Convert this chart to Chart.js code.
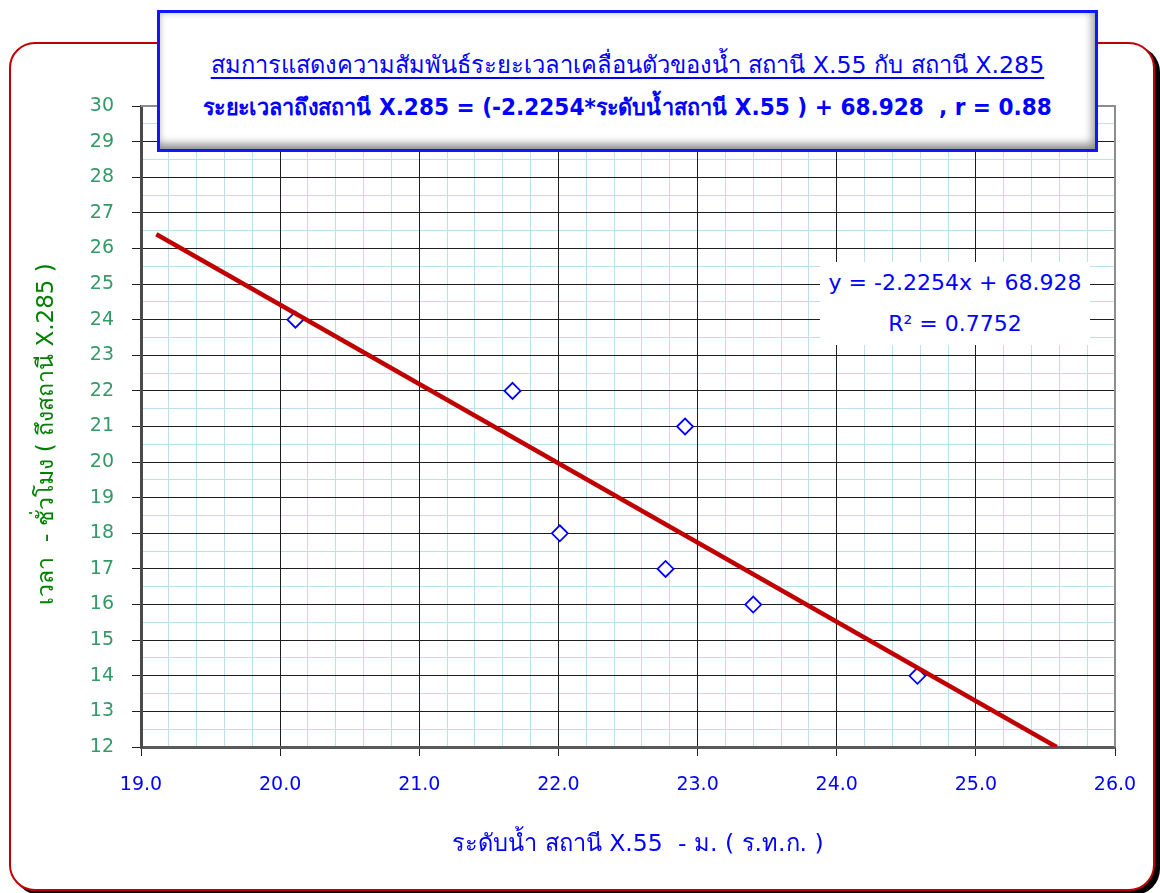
<!DOCTYPE html>
<html><head><meta charset="utf-8">
<script src="https://cdn.jsdelivr.net/npm/chart.js@4/dist/chart.umd.min.js"></script>
<style>
html,body{margin:0;padding:0;background:#fff;}
#wrap{position:relative;width:1160px;height:893px;overflow:hidden;font-family:"DejaVu Sans",sans-serif;}
#frame{position:absolute;box-sizing:border-box;left:9px;top:42px;width:1146px;height:849px;border:2px solid #c00000;border-radius:26px;box-shadow:5px 4px 0 #000;background:#fff;}
#cv{position:absolute;left:0;top:0;}
#titlebox{position:absolute;box-sizing:border-box;left:157px;top:10px;width:941px;height:142px;border:3px solid #1414ff;background:#fff;
 box-shadow: inset 0 -10px 8px -5px #8c8c8c, inset -8px 0 8px -5px #a0a0a0, inset 5px 5px 6px -4px #d8d8d8;color:#0000ff;}
.tl{position:absolute;left:0;right:0;text-align:center;white-space:pre;}
#t1{top:37px;font-size:23.7px;line-height:30px;text-decoration:underline;text-underline-offset:4px;}
#t2{top:79px;font-size:23px;line-height:30px;font-weight:bold;transform:scaleX(0.94);transform-origin:50% 50%;}
#eqbox{position:absolute;left:820px;top:262px;width:270px;height:83px;background:#fff;color:#0000ff;font-size:22px;}
#eqbox div{position:absolute;left:0;right:0;text-align:center;line-height:26px;white-space:pre;}
</style></head>
<body>
<div id="wrap">
 <div id="frame"></div>
 <canvas id="cv" width="1160" height="893"></canvas>
 <div id="titlebox">
  <div class="tl" id="t1">สมการแสดงความสัมพันธ์ระยะเวลาเคลื่อนตัวของน้ำ สถานี X.55 กับ สถานี X.285</div>
  <div class="tl" id="t2">ระยะเวลาถึงสถานี X.285 = (-2.2254*ระดับน้ำสถานี X.55 ) + 68.928  , r = 0.88</div>
 </div>
 <div id="eqbox">
  <div style="top:8px">y = -2.2254x + 68.928</div>
  <div style="top:49px">R² = 0.7752</div>
 </div>
</div>
<script>
// Data
const waterLevelX55 = [20.11, 21.67, 22.01, 22.91, 22.77, 23.40, 24.58];
const travelHoursX285 = [24, 22, 18, 21, 17, 16, 14];
const trendX = [19.11, 25.58];
const trendY = [26.40, 12.00];
const xTickRange = [19, 26];
const yTickRange = [12, 30];
const xAxisTitle = "ระดับน้ำ สถานี X.55  - ม. ( ร.ท.ก. )";
const yAxisTitle = "เวลา  - ชั่วโมง ( ถึงสถานี X.285 )";

const FONT = '"DejaVu Sans", sans-serif';

const pts = waterLevelX55.map((x, i) => ({x, y: travelHoursX285[i]}));
const trend = trendX.map((x, i) => ({x, y: trendY[i]}));

const extras = {
  id: 'extras',
  beforeDatasetsDraw(chart) {
    const {ctx, chartArea: a} = chart;
    ctx.save();
    ctx.strokeStyle = '#8c8c8c';
    ctx.lineWidth = 2;
    ctx.beginPath();
    ctx.moveTo(a.left, a.top); ctx.lineTo(a.right, a.top); ctx.lineTo(a.right, a.bottom);
    ctx.stroke();
    ctx.restore();
  },
  afterDraw(chart) {
    const {ctx} = chart;
    ctx.save();
    ctx.textAlign = 'center';
    ctx.textBaseline = 'middle';
    ctx.font = '23.6px ' + FONT;
    ctx.fillStyle = '#0000ff';
    ctx.fillText(xAxisTitle, 638, 845);
    ctx.translate(47, 434);
    ctx.rotate(-Math.PI / 2);
    ctx.font = '23px ' + FONT;
    ctx.fillStyle = '#008000';
    ctx.fillText(yAxisTitle, 0, 0);
    ctx.restore();
  }
};

new Chart(document.getElementById('cv'), {
  type: 'scatter',
  data: {
    datasets: [
      {
        data: pts,
        pointStyle: 'rectRot',
        pointRadius: 8,
        pointHoverRadius: 8,
        borderColor: '#0000ff',
        backgroundColor: '#ffffff',
        pointBorderWidth: 1.8,
        showLine: false,
        order: 2
      },
      {
        data: trend,
        showLine: true,
        borderColor: '#c00000',
        borderWidth: 4.5,
        pointRadius: 0,
        order: 1
      }
    ]
  },
  plugins: [extras],
  options: {
    responsive: false,
    animation: false,
    events: [],
    layout: {padding: {top: 106, right: 45, left: 0, bottom: 0}},
    plugins: {legend: {display: false}, tooltip: {enabled: false}},
    scales: {
      xMinor: {
        type: 'linear', position: 'bottom', min: xTickRange[0], max: xTickRange[1], weight: 10,
        ticks: {display: false, stepSize: 0.2},
        grid: {color: '#bde0ee', lineWidth: 1, borderDash: [2, 2], drawTicks: false, z: -3},
        border: {display: false},
        afterFit(s) { s.height = 0; }
      },
      yMinor: {
        type: 'linear', position: 'left', min: yTickRange[0], max: yTickRange[1], weight: 10,
        ticks: {display: false, stepSize: 0.5},
        grid: {color: '#bde0ee', lineWidth: 1, borderDash: [2, 2], drawTicks: false, z: -3},
        border: {display: false},
        afterFit(s) { s.width = 0; }
      },
      x: {
        type: 'linear', position: 'bottom', min: xTickRange[0], max: xTickRange[1], weight: 0,
        ticks: {stepSize: 1, color: '#0000ff', font: {family: FONT, size: 19}, padding: 18,
                callback: v => Number(v).toFixed(1)},
        grid: {color: '#1e1e1e', lineWidth: 1, tickLength: 9, z: -2},
        border: {display: true, color: '#5a5a5a', width: 3, z: -1},
        afterFit(s) { s.height = 146; }
      },
      y: {
        type: 'linear', position: 'left', min: yTickRange[0], max: yTickRange[1], weight: 0,
        ticks: {stepSize: 1, color: '#339966', font: {family: FONT, size: 19}, padding: 18},
        grid: {color: '#1e1e1e', lineWidth: 1, tickLength: 9, z: -2},
        border: {display: true, color: '#4a4a4a', width: 3, z: -1},
        afterFit(s) { s.width = 141; }
      }
    }
  }
});
</script>
</body></html>
